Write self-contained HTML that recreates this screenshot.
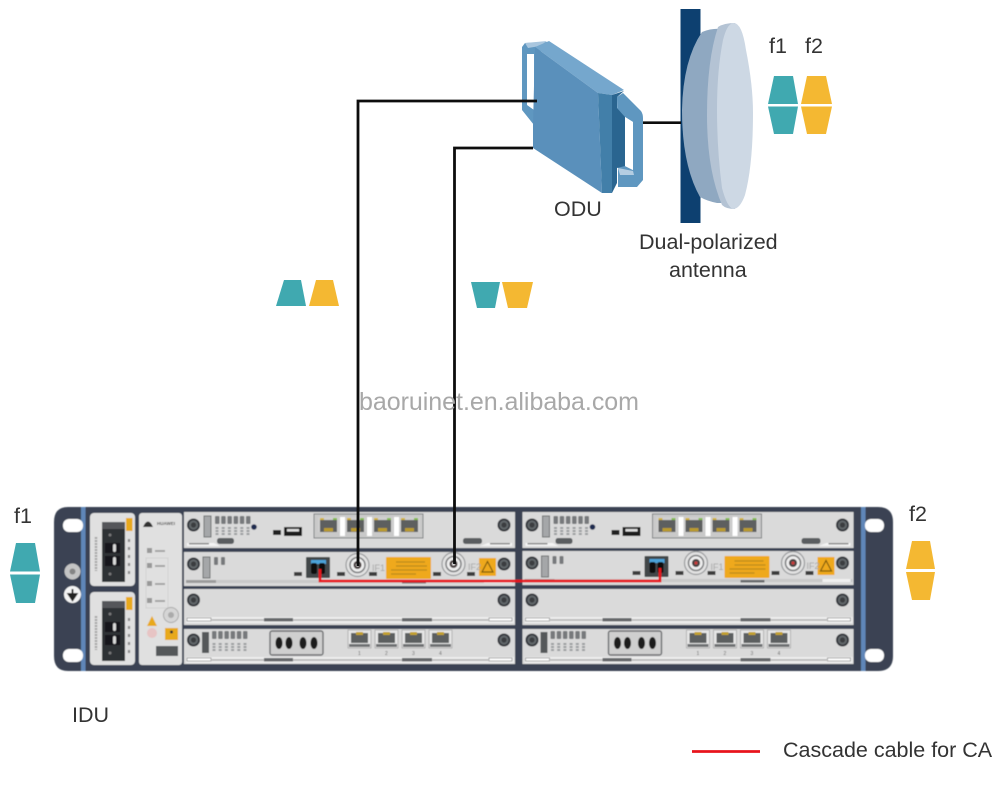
<!DOCTYPE html>
<html><head><meta charset="utf-8"><style>
html,body{margin:0;padding:0;background:#fff}
svg{display:block}
text{font-family:"Liberation Sans",sans-serif}
</style></head><body>
<svg width="998" height="800" viewBox="0 0 998 800" xmlns="http://www.w3.org/2000/svg">
<defs>
<filter id="b" x="-5%" y="-5%" width="110%" height="110%"><feGaussianBlur stdDeviation="0.55"/></filter>
<filter id="c" x="-5%" y="-5%" width="110%" height="110%"><feGaussianBlur stdDeviation="0.35"/></filter>
<g id="screw"><circle r="6.500" fill="#33363a"/><circle r="4.600" fill="#62676b"/><circle r="2.600" fill="#3a3d40"/></g>
<g id="rj"><rect x="0" y="0" width="21" height="15" fill="#cfcfcf"/><rect x="2" y="3" width="17" height="12" fill="#5d5f5f"/><rect x="6" y="11" width="9" height="3.500" fill="#b99a2f"/><rect x="2" y="1" width="4" height="2" fill="#d2b43c"/><rect x="15" y="1" width="4" height="2" fill="#86bd52"/></g>
<g id="rjb"><rect width="23" height="18" fill="#e6e6e6" stroke="#a2a2a2" stroke-width=".7"/><rect x="3" y="3" width="17" height="10" fill="#5c5f60"/><rect x="8" y="2" width="7" height="3" fill="#c2a02f"/><rect x="1" y="14" width="21" height="3" fill="#6e7072"/></g>
<g id="bnc"><circle r="11.500" fill="#e2e2e2" stroke="#97999b" stroke-width="1.200"/><circle r="7.500" fill="#efefef" stroke="#7a7c7e" stroke-width="1.500"/><circle r="4" fill="#4a3f40"/><circle r="1.500" fill="#e9e9e9"/></g>
<g id="dots"><rect x="0" width="4.500" height="8" rx="1" fill="#77797b"/><rect x="6.200" width="4.500" height="8" rx="1" fill="#77797b"/><rect x="12.400" width="4.500" height="8" rx="1" fill="#77797b"/><rect x="18.600" width="4.500" height="8" rx="1" fill="#77797b"/><rect x="24.800" width="4.500" height="8" rx="1" fill="#77797b"/><rect x="31" width="4.500" height="8" rx="1" fill="#77797b"/></g>
<g id="dots2"><path d="M2 0V9M8.200 0V9M14.400 0V9M20.600 0V9M26.800 0V9M33 0V9" stroke="#9a9c9e" stroke-width="3" stroke-dasharray="2 1"/></g>
<g id="p1">
<rect width="331" height="36" fill="#dadada"/>
<use href="#screw" x="9.500" y="13"/><use href="#screw" x="320" y="13"/>
<rect x="20" y="4" width="7" height="21" fill="#a5a7a9" stroke="#6c6e70"/>
<use href="#dots" x="31" y="4"/><use href="#dots2" x="31" y="15"/>
<circle cx="70" cy="15" r="2.800" fill="#1e2a50"/>
<rect x="89" y="18" width="8" height="5" fill="#222"/><rect x="100" y="15" width="18" height="9" fill="#1b1b1b"/><rect x="103" y="17" width="12" height="2.500" fill="#ddd"/>
<rect x="130" y="2" width="109" height="24" fill="#c9c9c9" stroke="#7f8183"/>
<rect x="156" y="5" width="5" height="19" fill="#fff"/><rect x="183" y="5" width="5" height="19" fill="#fff"/><rect x="210" y="5" width="5" height="19" fill="#fff"/>
<use href="#rj" x="134" y="5"/><use href="#rj" x="161" y="5"/><use href="#rj" x="188" y="5"/><use href="#rj" x="215" y="5"/>
<rect x="33" y="26" width="17" height="6" rx="2.500" fill="#5a5d60"/><rect x="279" y="26" width="19" height="6" rx="2.500" fill="#5a5d60"/>
<path d="M3 31H30L36 34H3ZM328 31H304L296 34H328Z" fill="#f4f4f4"/><rect x="5" y="31" width="20" height="1.500" fill="#888"/><rect x="306" y="31" width="20" height="1.500" fill="#888"/>
</g>
<g id="p2">
<rect width="331" height="34" fill="#dadada"/>
<use href="#screw" x="9.500" y="12"/><use href="#screw" x="320" y="12"/>
<rect x="19" y="5" width="7" height="21" fill="#a5a7a9" stroke="#6c6e70"/>
<rect x="30" y="5" width="4" height="8" rx="1" fill="#77797b"/><rect x="37" y="5" width="4" height="8" rx="1" fill="#77797b"/>
<rect x="110" y="20" width="8" height="4" fill="#3c3c3c"/><rect x="153" y="20" width="8" height="4" fill="#3c3c3c"/><rect x="185" y="20" width="8" height="4" fill="#3c3c3c"/><rect x="249" y="20" width="8" height="4" fill="#3c3c3c"/><rect x="283" y="20" width="8" height="4" fill="#3c3c3c"/>
<rect x="122" y="5" width="24" height="21" rx="1" fill="#42464a"/><rect x="127" y="8" width="15" height="4" fill="#4ba3d9"/>
<rect x="127" y="11" width="6" height="11" rx="2" fill="#111"/><rect x="135" y="11" width="6" height="11" rx="2" fill="#111"/>
<rect x="202" y="5" width="45" height="22" rx="1" fill="#efa91c"/><path d="M212 10H241M212 14H243M207 18H243M207 22H232" stroke="#b98a1e" stroke-width="1.200"/>
<rect x="295" y="6" width="17" height="18" fill="#efa91c"/><path d="M303.500 9.500L309 20H298Z" fill="none" stroke="#7d5a10" stroke-width="1.200"/>
<text x="188" y="19" font-size="9" fill="#a5a5a5">IF1</text><text x="284" y="18" font-size="9" fill="#a5a5a5">IF2</text>
<rect x="2" y="28" width="328" height="3" fill="#c9c9c9"/><rect x="2" y="28" width="30" height="3" fill="#9b9b9b"/><rect x="218" y="29" width="24" height="2.500" fill="#66686a"/><rect x="300" y="28" width="28" height="3" fill="#f0f0f0"/>
</g>
<g id="p3">
<rect width="331" height="36" fill="#dadada"/>
<use href="#screw" x="9.500" y="11"/><use href="#screw" x="320" y="11"/>
<rect x="2" y="28" width="328" height="6" fill="#eeeeee"/>
<path d="M3 29H27V32H3ZM328 29H305V32H328Z" fill="#fff" stroke="#8d8d8d" stroke-width=".8"/>
<rect x="27" y="30" width="278" height="2" fill="#bdbdbd"/><rect x="80" y="29" width="29" height="3.500" fill="#66686a"/><rect x="218" y="29" width="30" height="3.500" fill="#66686a"/>
</g>
<g id="p4">
<rect width="331" height="35" fill="#dadada"/>
<use href="#screw" x="9.500" y="11"/><use href="#screw" x="320" y="11"/>
<rect x="18" y="3" width="7" height="21" fill="#55585a"/>
<use href="#dots" x="28" y="2"/><use href="#dots2" x="28" y="14"/>
<rect x="86" y="2" width="53" height="24" rx="2" fill="#cfcfcf" stroke="#6a6c6e" stroke-width="1.400"/>
<ellipse cx="95" cy="14" rx="3.500" ry="6" fill="#1c1c1c"/><ellipse cx="105" cy="14" rx="3.500" ry="6" fill="#1c1c1c"/><ellipse cx="119" cy="14" rx="3.500" ry="6" fill="#1c1c1c"/><ellipse cx="130" cy="14" rx="3.500" ry="6" fill="#1c1c1c"/>
<use href="#rjb" x="164" y="1"/><use href="#rjb" x="191" y="1"/><use href="#rjb" x="218" y="1"/><use href="#rjb" x="245" y="1"/>
<text x="174" y="26" font-size="5" fill="#666">1</text><text x="201" y="26" font-size="5" fill="#666">2</text><text x="228" y="26" font-size="5" fill="#666">3</text><text x="255" y="26" font-size="5" fill="#666">4</text>
<rect x="2" y="28" width="328" height="6" fill="#eeeeee"/>
<path d="M3 29H27V32H3ZM328 29H305V32H328Z" fill="#fff" stroke="#8d8d8d" stroke-width=".8"/>
<rect x="27" y="30" width="278" height="2" fill="#bdbdbd"/><rect x="80" y="29" width="29" height="3.500" fill="#66686a"/><rect x="218" y="29" width="30" height="3.500" fill="#66686a"/>
</g>
<g id="pwr"><rect width="45" height="73" rx="4" fill="#e0e0e0"/>
<rect x="12" y="9" width="23" height="60" fill="#2f3236"/><rect x="12" y="9" width="23" height="7" fill="#55575a"/>
<rect x="36" y="5" width="6.500" height="13" fill="#e8a91c"/>
<circle cx="20" cy="22" r="1.500" fill="#777"/><circle cx="20" cy="61" r="1.500" fill="#777"/>
<rect x="15" y="30" width="15" height="10" fill="#16181b"/><rect x="15" y="43" width="15" height="10" fill="#16181b"/>
<rect x="23" y="31" width="3" height="8" rx="1.500" fill="#d8d8d8"/><rect x="23" y="44" width="3" height="8" rx="1.500" fill="#d8d8d8"/>
<path d="M39 26V62" stroke="#8a8a8a" stroke-width="2.200" stroke-dasharray="3 5"/>
<path d="M6 24V58" stroke="#a5a5a5" stroke-width="2.500" stroke-dasharray="2 1"/>
</g>
</defs>

<g filter="url(#b)">
<!-- IDU chassis -->
<path d="M68 507H878Q893 507 893 522V656Q893 671 878 671H68Q54 671 54 656V522Q54 507 68 507Z" fill="#3a4352"/>
<rect x="81" y="507" width="4.500" height="164" fill="#5e86b8"/><rect x="861" y="507" width="4.500" height="164" fill="#5e86b8"/>
<rect x="63" y="519" width="20" height="13" rx="6" fill="#fff"/><rect x="63" y="649" width="20" height="13" rx="6" fill="#fff"/>
<rect x="865" y="519" width="19" height="13" rx="6" fill="#fff"/><rect x="865" y="649" width="19" height="13" rx="6" fill="#fff"/>
<circle cx="72.500" cy="571.500" r="8" fill="#c4c4c4"/><circle cx="72.500" cy="571.500" r="3" fill="#858585"/>
<circle cx="72.500" cy="594.500" r="8.500" fill="#f4f4f4"/><path d="M72.500 589V598M68.500 594L72.500 600L76.500 594Z" stroke="#222" stroke-width="2" fill="#222"/>
<!-- power -->
<use href="#pwr" x="90" y="513"/><use href="#pwr" x="90" y="592"/>
<!-- centre panel -->
<rect x="139" y="513" width="43" height="152" rx="3" fill="#e0e0e0"/>
<text x="157" y="525" font-size="4.500" font-weight="bold" fill="#555">HUAWEI</text><path d="M143 527Q148 516 153 527Z" fill="#333"/>
<rect x="147" y="548" width="5" height="5" fill="#999"/><rect x="147" y="563" width="5" height="5" fill="#999"/><rect x="147" y="581" width="5" height="5" fill="#999"/><rect x="147" y="598" width="5" height="5" fill="#999"/>
<path d="M155 551H165M155 566H165M155 584H165M155 601H165" stroke="#a5a5a5" stroke-width="2"/>
<rect x="146" y="558" width="22" height="50" fill="none" stroke="#d2d2d2"/>
<circle cx="171" cy="615" r="7.500" fill="#d5d5d5" stroke="#aaa"/><circle cx="171" cy="615" r="3" fill="#aaa"/>
<path d="M152 616L157 626H147Z" fill="#e8a91c"/><circle cx="152" cy="633" r="5" fill="#e7c4c4"/>
<rect x="165" y="628" width="13" height="12" fill="#e8a91c"/><circle cx="171.500" cy="632" r="1.500" fill="#333"/>
<rect x="156" y="646" width="22" height="10" fill="#55585a"/>
<!-- boards -->
<use href="#p1" x="184" y="512"/><use href="#p1" x="522.500" y="512"/>
<use href="#p2" x="184" y="552"/><use href="#p2" x="522.500" y="551"/>
<use href="#p3" x="184" y="589"/><use href="#p3" x="522.500" y="589"/>
<use href="#p4" x="184" y="629"/><use href="#p4" x="522.500" y="629"/>
<use href="#bnc" x="357.500" y="565"/><use href="#bnc" x="453.500" y="564"/>
<use href="#bnc" x="696" y="563"/><use href="#bnc" x="793" y="563"/>
<circle cx="696" cy="563" r="1.500" fill="#c33"/><circle cx="793" cy="563" r="1.500" fill="#c33"/>
<!-- red cascade -->
<path d="M320 569V581H660V568" fill="none" stroke="#e8141c" stroke-width="2.800"/>
</g>

<g filter="url(#c)">
<!-- ODU left handle -->
<path fill-rule="evenodd" d="M522 47L525 43L547 42L535 60L534 125L522 110ZM527 54V105L534 110V54Z" fill="#5f97c0"/>
<path d="M525 43L547 41L540 46L528 48Z" fill="#a9c6de"/>
<!-- ODU right handle -->
<path fill-rule="evenodd" d="M617 97L623 93L641 111Q643 114 643 118V180L637 187H618V167ZM625 117L633 122V170L625 166Z" fill="#5f97c0"/>
<path d="M618 168L633 171L634 175L620 175Z" fill="#b4cde2"/>
<path d="M625 117L633 122V170L625 166Z" fill="#fff"/>
<!-- ODU body -->
<path d="M535 47L549 41L624 90L612 95L598 93Z" fill="#75a7cd"/>
<path d="M535 47L598 93L602 193L533 148V125Z" fill="#5a90bb"/>
<path d="M598 93L612 95V193H602Z" fill="#437fa9"/>
<path d="M612 95L624 91L617 97V108L625 117V166L617 168V183L612 193Z" fill="#2c6590"/>
<!-- pole + antenna -->
<rect x="680.500" y="9" width="20" height="214" fill="#0d416f"/>
<path d="M702 32Q712 28 722 29V203H717Q707 201 700 197Q682 165 682 110Q683 60 702 32Z" fill="#8fa8c1"/>
<path d="M718 27Q724 23 735 23V209Q726 209 722 205Q707 170 707 115Q707 60 718 27Z" fill="#b4c3d4"/>
<path d="M733 23Q742 22 746 50Q753 85 753 113Q753 165 745 195Q740 209 733 209Q727 207 722 188Q717 150 717 110Q717 70 723 40Q727 24 733 23Z" fill="#cdd8e4"/>
</g>

<!-- cables -->
<path d="M358 566V101H537" fill="none" stroke="#0d0d0d" stroke-width="2.800"/>
<path d="M454.500 564V148H533" fill="none" stroke="#0d0d0d" stroke-width="2.800"/>
<path d="M643 122.700H681" stroke="#0d0d0d" stroke-width="2.600"/>

<!-- signal shapes -->
<g filter="url(#c)">
<path d="M774 76H793L798 104H768ZM768 106.500H798L793 134H774Z" fill="#3fa9b0"/>
<path d="M807 76H826L832 104H801ZM801 106.500H832L826 134H807Z" fill="#f4b833"/>
<path d="M284 280H301L306 306H276Z" fill="#3fa9b0"/><path d="M316 280H333L339 306H309Z" fill="#f4b833"/>
<path d="M471 282H500L495 308H477Z" fill="#3fa9b0"/><path d="M502 282H533L527 308H508Z" fill="#f4b833"/>
<path d="M16 543H35L40 571.500H10ZM10 574.500H40L35 603H16Z" fill="#3fa9b0"/>
<path d="M912 541H930L935 569H906ZM906 572H935L930 600H912Z" fill="#f4b833"/>
</g>

<!-- labels -->
<g fill="#333" font-size="21.500">
<text x="769" y="53">f1</text><text x="805" y="53">f2</text>
<text x="554" y="216">ODU</text>
<text x="639" y="249">Dual-polarized</text>
<text x="669" y="277">antenna</text>
<text x="14" y="523">f1</text><text x="909" y="521">f2</text>
<text x="72" y="722">IDU</text>
<text x="783" y="757">Cascade cable for CA</text>
</g>
<text x="359" y="410" font-size="25" fill="#a8a8a8" textLength="280" lengthAdjust="spacing">baoruinet.en.alibaba.com</text>
<path d="M692 751.500H760" stroke="#e8141c" stroke-width="2.800"/>
</svg>
</body></html>
